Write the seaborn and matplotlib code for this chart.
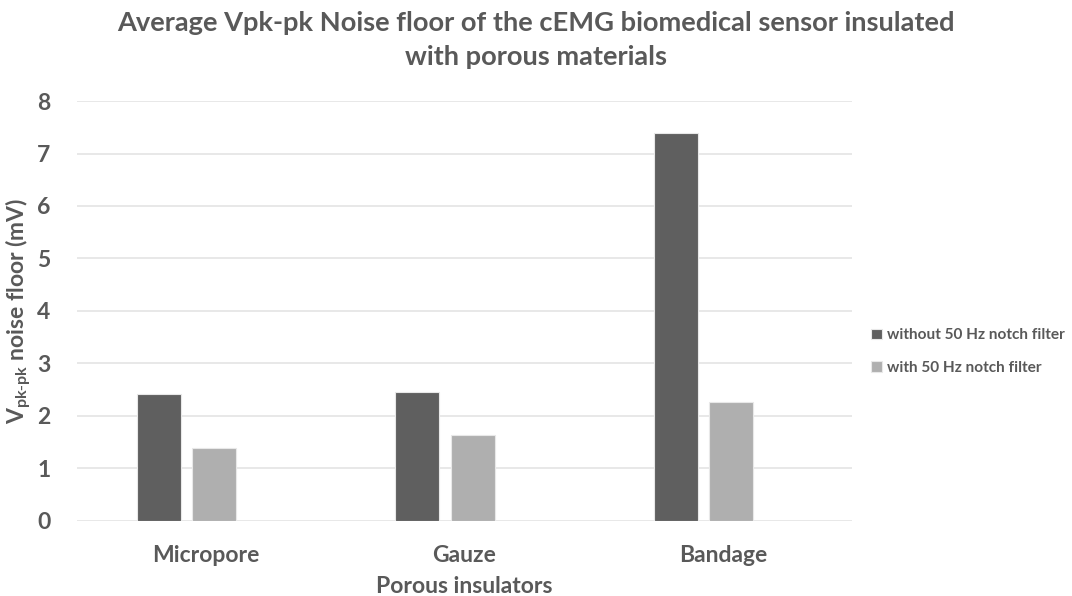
import numpy as np
import pandas as pd
import matplotlib
matplotlib.use("Agg")
import matplotlib.pyplot as plt
import seaborn as sns

categories = ["Micropore", "Gauze", "Bandage"]
series_names = ["without 50 Hz notch filter", "with 50 Hz notch filter"]
without_notch = [2.42, 2.45, 7.40]
with_notch = [1.38, 1.64, 2.27]
y_ticks = [0, 1, 2, 3, 4, 5, 6, 7, 8]

df = pd.DataFrame({
    "insulator": categories * 2,
    "filter": [series_names[0]] * 3 + [series_names[1]] * 3,
    "value": without_notch + with_notch,
})

sns.set_theme(style="white")
plt.rcParams["font.family"] = ["Lato", "DejaVu Sans"]
text_col = "#595959"

fig = plt.figure(figsize=(10.72, 5.96), dpi=100)
ax = fig.add_axes([0.0718, 0.126, 0.795 - 0.0718, 0.8305 - 0.126])

sns.barplot(data=df, x="insulator", y="value", hue="filter",
            palette=["#5f5f5f", "#afafaf"], width=0.43, gap=0.21,
            edgecolor="#e8e8e8", linewidth=0.8, ax=ax, legend=True)

ax.set_ylim(0, 8)
ax.set_yticks(y_ticks)
ax.set_xlim(-0.424, 2.576)
ax.set_xticks(np.arange(len(categories)) + 0.0756)
ax.set_xticklabels(categories)
ax.yaxis.grid(True, color="#e4e4e4", linewidth=1.2)
ax.set_axisbelow(True)
for s in ax.spines.values():
    s.set_visible(False)
ax.tick_params(axis="both", length=0, labelsize=16.5, labelcolor=text_col)
for lab in ax.get_xticklabels() + ax.get_yticklabels():
    lab.set_fontweight("bold")
ax.tick_params(axis="y", pad=19)
ax.tick_params(axis="x", pad=17)

ax.set_xlabel("Porous insulators", fontsize=16.5, fontweight="bold", color=text_col, labelpad=7.5)
ax.set_ylabel(r"V$_{\mathregular{pk\text{-}pk}}$ noise floor (mV)", fontsize=16.5,
              fontweight="bold", color=text_col, labelpad=2)

fig.suptitle("Average Vpk-pk Noise floor of the cEMG biomedical sensor insulated\nwith porous materials",
             x=0.5, y=0.982, fontsize=19.6, fontweight="bold", color=text_col, linespacing=1.5)

handles, labels = ax.get_legend_handles_labels()
leg = ax.legend(handles, labels, loc="center left", bbox_to_anchor=(0.8, 0.41),
                bbox_transform=fig.transFigure, frameon=False, fontsize=11.1,
                handlelength=0.7, handleheight=0.7, handletextpad=0.3, labelspacing=1.2)
for t in leg.get_texts():
    t.set_color(text_col)
    t.set_fontweight("bold")

fig.savefig("out.png", dpi=100)
